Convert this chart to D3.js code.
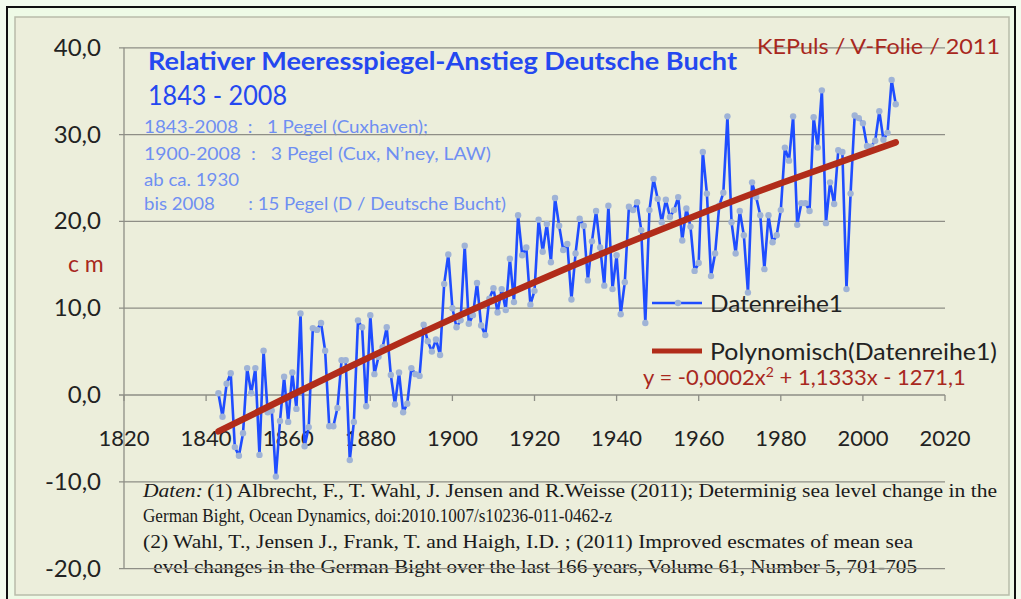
<!DOCTYPE html>
<meta charset="utf-8">
<head>
    <title>Relativer Meeresspiegel-Anstieg Deutsche Bucht</title>
    <script src="https://cdn.jsdelivr.net/npm/d3@7"></script>
    <style>
        body { margin: 0; background: #f3fcee; }
        svg { display: block; }
    </style>
</head>
<body>
<div id="chart"></div>
<script>
    // yearly values (cm), 1843 - 2008
    var startYear = 1843;
    var levels = [
        0.2, -2.5, 1.3, 2.5, -6.0, -7.0, -4.4,
        3.1, 0.2, 3.1, -6.9, 5.1, -2.0, -1.8, -9.4, -3.0, 2.1,
        -3.1, 2.6, -1.6, 9.4, -5.9, -3.7, 7.7, 7.5, 8.3, 5.1,
        -3.6, -3.6, -1.5, 4.0, 4.0, -7.5, -3.1, 8.6, 7.8, -1.3,
        9.2, 2.4, 4.4, 5.5, 7.8, 2.3, -1.1, 2.6, -2.0, -1.0,
        3.1, 2.4, 2.2, 8.1, 6.2, 5.0, 6.4, 4.6, 12.8, 16.2,
        10.0, 7.8, 8.6, 17.2, 8.2, 9.2, 12.9, 8.0, 6.9, 11.1,
        12.3, 9.5, 12.2, 9.8, 15.7, 10.7, 20.7, 16.1, 17.0, 10.4,
        12.0, 20.2, 16.5, 19.7, 15.3, 22.7, 19.5, 16.7, 17.4, 11.0,
        16.3, 20.3, 19.5, 13.2, 17.7, 21.2, 17.0, 12.6, 21.8, 12.2,
        16.1, 9.3, 13.0, 21.7, 21.3, 22.2, 19.0, 8.3, 21.3, 24.9,
        22.6, 19.9, 22.5, 20.5, 21.3, 22.8, 17.8, 21.5, 19.4, 14.3,
        15.2, 28.0, 23.2, 13.7, 16.3, 21.8, 23.3, 32.1, 19.9, 16.3,
        21.2, 18.4, 11.8, 24.5, 22.8, 20.7, 14.5, 20.7, 17.6, 18.4,
        21.3, 28.5, 27.0, 32.1, 19.6, 22.1, 22.1, 21.2, 32.0, 28.5,
        35.1, 19.8, 24.5, 22.0, 28.2, 28.0, 12.2, 23.2, 32.2, 31.9,
        31.3, 28.7, 28.6, 29.3, 32.7, 29.4, 30.2, 36.3, 33.5
    ];
    var years = levels.map(function(d, i) { return startYear + i; });

    // polynomial trend
    var trendYears = [1843, 1860, 1880, 1900, 1920, 1940, 1960, 1980, 2008];
    var trendValues = [-4.2, -0.2, 4.4, 8.8, 13.0, 17.0, 20.8, 24.4, 29.1];

    var yTicks = [40, 30, 20, 10, 0, -10, -20];
    var xTicks = [1820, 1840, 1860, 1880, 1900, 1920, 1940, 1960, 1980, 2000, 2020];

    var subLines = [
        "1843-2008  :   1 Pegel (Cuxhaven);",
        "1900-2008  :   3 Pegel (Cux, N\u2019ney, LAW)",
        "ab ca. 1930",
        "bis 2008       : 15 Pegel (D / Deutsche Bucht)"
    ];
    var sourceLines = [
        "(1) Albrecht, F., T. Wahl, J. Jensen and R.Weisse (2011); Determinig sea level change in the",
        "German Bight, Ocean Dynamics, doi:2010.1007/s10236-011-0462-z",
        "(2) Wahl, T., Jensen J., Frank, T. and Haigh, I.D. ; (2011) Improved escmates of mean sea",
        " evel changes in the German Bight over the last 166 years, Volume 61, Number 5, 701-705"
    ];

    var width = 1021, height = 599;
    var sans = "Lato, 'Open Sans', sans-serif";
    var blue = "#2448f0", lightBlue = "#6f8ff2", darkRed = "#a8281e";

    var svg = d3.select("#chart").append("svg")
        .attr("width", width)
        .attr("height", height);

    // frame and chart area
    svg.append("rect").attr("x", 7).attr("y", 7).attr("width", 1008).attr("height", 600)
        .attr("fill", "#eefae6").attr("stroke", "#111").attr("stroke-width", 2);
    svg.append("rect").attr("x", 15).attr("y", 17).attr("width", 994).attr("height", 578)
        .attr("fill", "#eceedb").attr("stroke", "#b9bcaa").attr("stroke-width", 1.5);

    var x = d3.scaleLinear().domain([1820, 2020]).range([124, 945]);
    var y = d3.scaleLinear().domain([-20, 40]).range([568.6, 47.8]);

    // text under the grid
    var title = svg.append("g");
    title.append("text").attr("x", 148).attr("y", 70)
        .attr("font-family", sans).attr("font-weight", "bold").attr("font-size", 25)
        .attr("fill", blue).attr("textLength", 589).attr("lengthAdjust", "spacingAndGlyphs")
        .text("Relativer Meeresspiegel-Anstieg Deutsche Bucht");
    title.append("text").attr("x", 148).attr("y", 105)
        .attr("font-family", sans).attr("font-size", 26)
        .attr("fill", blue).attr("textLength", 139).attr("lengthAdjust", "spacingAndGlyphs")
        .text("1843 - 2008");
    var subY = [133, 160, 186, 210];
    var subW = [284, 347, 95, 362];
    title.selectAll(".sub").data(subLines).enter().append("text")
        .attr("class", "sub")
        .attr("x", 144).attr("y", function(d, i) { return subY[i]; })
        .attr("font-family", sans).attr("font-size", 18)
        .attr("fill", lightBlue)
        .attr("textLength", function(d, i) { return subW[i]; })
        .attr("lengthAdjust", "spacingAndGlyphs")
        .style("white-space", "pre")
        .text(function(d) { return d; });

    var src = svg.append("g").attr("font-family", "'Liberation Serif', serif")
        .attr("font-size", 19).attr("fill", "#1a1a1a");
    var srcY = [497, 522, 548, 573];
    var srcX = [143, 143, 143, 148];
    var srcW = [854, 469, 770, 769];
    var first = src.append("text").attr("x", srcX[0]).attr("y", srcY[0]);
    first.append("tspan").attr("font-style", "italic").text("Daten:");
    first.append("tspan").attr("dx", 4).text(sourceLines[0]);
    first.attr("textLength", srcW[0]).attr("lengthAdjust", "spacingAndGlyphs");
    src.selectAll(".srcline").data(sourceLines.slice(1)).enter().append("text")
        .attr("class", "srcline")
        .attr("x", function(d, i) { return srcX[i + 1]; })
        .attr("y", function(d, i) { return srcY[i + 1]; })
        .attr("textLength", function(d, i) { return srcW[i + 1]; })
        .attr("lengthAdjust", "spacingAndGlyphs")
        .style("white-space", "pre")
        .text(function(d) { return d; });

    // gridlines
    svg.append("g").selectAll("line").data(yTicks).enter().append("line")
        .attr("x1", 119).attr("x2", 945)
        .attr("y1", function(d) { return y(d); })
        .attr("y2", function(d) { return y(d); })
        .attr("stroke", "#8e8e86").attr("stroke-width", 1.3);

    // y axis
    svg.append("line").attr("x1", 124).attr("x2", 124)
        .attr("y1", y(40)).attr("y2", y(-20))
        .attr("stroke", "#8e8e86").attr("stroke-width", 1.3);
    svg.append("g").selectAll("text").data(yTicks).enter().append("text")
        .attr("x", 101).attr("y", function(d) { return y(d) + 8; })
        .attr("text-anchor", "end")
        .attr("font-family", sans).attr("font-size", 24).attr("fill", "#222")
        .text(function(d) { return d3.format(".1f")(d).replace(".", ",").replace("\u2212", "-"); });

    // x axis ticks and labels (axis sits on y = 0)
    svg.append("g").selectAll("line").data(xTicks).enter().append("line")
        .attr("x1", function(d) { return x(d); })
        .attr("x2", function(d) { return x(d); })
        .attr("y1", y(0)).attr("y2", y(0) + 6)
        .attr("stroke", "#8e8e86").attr("stroke-width", 1.3);
    svg.append("g").selectAll("text").data(xTicks).enter().append("text")
        .attr("x", function(d) { return x(d); })
        .attr("y", 446)
        .attr("text-anchor", "middle")
        .attr("font-family", sans).attr("font-size", 22).attr("fill", "#222")
        .text(function(d) { return d; });

    svg.append("text").attr("x", 68).attr("y", 272)
        .attr("font-family", sans).attr("font-size", 23).attr("fill", darkRed)
        .style("white-space", "pre").text("c m");
    svg.append("text").attr("x", 757).attr("y", 54)
        .attr("font-family", sans).attr("font-size", 22).attr("fill", darkRed)
        .attr("textLength", 243).attr("lengthAdjust", "spacingAndGlyphs")
        .text("KEPuls / V-Folie / 2011");

    // data series
    var points = years.map(function(d, i) { return [d, levels[i]]; });
    var line = d3.line()
        .x(function(d) { return x(d[0]); })
        .y(function(d) { return y(d[1]); });

    svg.append("path").datum(points)
        .attr("d", line)
        .attr("fill", "none")
        .attr("stroke", "#1f4dff")
        .attr("stroke-width", 2.6)
        .attr("stroke-linejoin", "round");
    svg.append("g").selectAll("circle").data(points).enter().append("circle")
        .attr("cx", function(d) { return x(d[0]); })
        .attr("cy", function(d) { return y(d[1]); })
        .attr("r", 3.2)
        .attr("fill", "#9fb3d6");

    // trend
    var trend = trendYears.map(function(d, i) { return [d, trendValues[i]]; });
    svg.append("path").datum(trend)
        .attr("d", line.curve(d3.curveNatural))
        .attr("fill", "none")
        .attr("stroke", "#b12c1a")
        .attr("stroke-width", 6.5)
        .attr("stroke-linecap", "round");

    // legend
    var legend = svg.append("g");
    legend.append("line").attr("x1", 652).attr("x2", 702).attr("y1", 303).attr("y2", 303)
        .attr("stroke", "#1f4dff").attr("stroke-width", 2.6);
    legend.append("circle").attr("cx", 678).attr("cy", 303).attr("r", 3.2).attr("fill", "#9fb3d6");
    legend.append("text").attr("x", 710).attr("y", 312)
        .attr("font-family", sans).attr("font-size", 23).attr("fill", "#222")
        .attr("textLength", 133).attr("lengthAdjust", "spacingAndGlyphs")
        .text("Datenreihe1");
    legend.append("line").attr("x1", 652).attr("x2", 702).attr("y1", 351).attr("y2", 351)
        .attr("stroke", "#b12c1a").attr("stroke-width", 5);
    legend.append("text").attr("x", 710).attr("y", 360)
        .attr("font-family", sans).attr("font-size", 23).attr("fill", "#222")
        .attr("textLength", 287).attr("lengthAdjust", "spacingAndGlyphs")
        .text("Polynomisch(Datenreihe1)");
    var eq = legend.append("text").attr("x", 643).attr("y", 385)
        .attr("font-family", sans).attr("font-size", 22).attr("fill", darkRed);
    eq.append("tspan").text("y = -0,0002x");
    eq.append("tspan").attr("font-size", 14).attr("dy", -8).text("2");
    eq.append("tspan").attr("dy", 8).text(" + 1,1333x - 1271,1");
</script>
</body>
</html>
